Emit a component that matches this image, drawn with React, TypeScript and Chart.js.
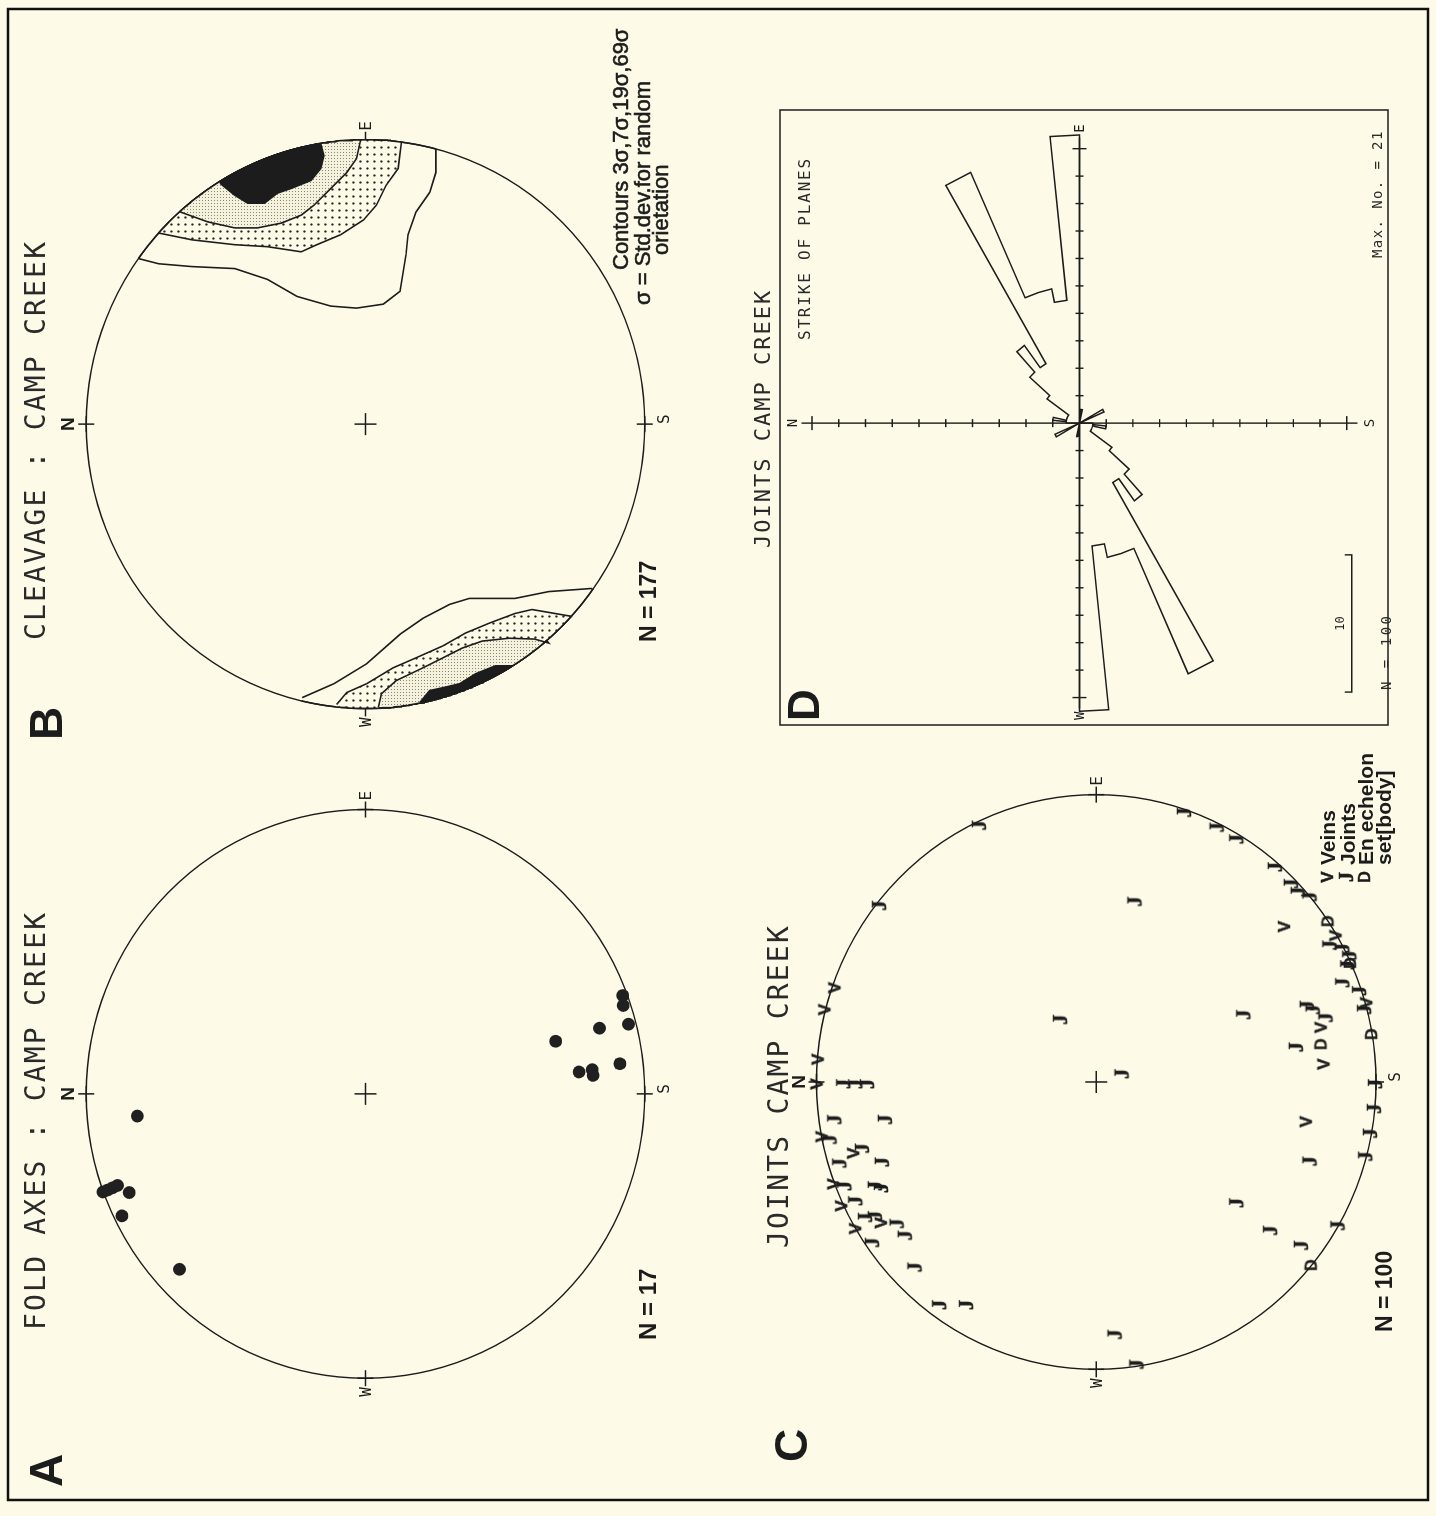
import React, { useEffect, useRef } from 'react';
import { Chart, registerables } from 'chart.js';

Chart.register(...registerables);

// ---------- page geometry (the figure is drawn landscape, then turned 90° CCW) ----------
const W = 1516;
const H = 1436;
const BG = '#fdfbe8';
const INK = '#1c1c1c';

// ---------- text ----------
const panelLetters = ['A', 'B', 'C', 'D'];
const titles = ['FOLD AXES : CAMP CREEK', 'CLEAVAGE : CAMP CREEK', 'JOINTS CAMP CREEK', 'JOINTS CAMP CREEK'];
const cardinal = ['N', 'E', 'S', 'W'];
const countLabels = ['N = 17', 'N = 177', 'N = 100'];
const contourLegend = ['Contours 3σ,7σ,19σ,69σ', 'σ = Std.dev.for random', 'orietation'];
const jointLegendSymbols = ['V', 'J', 'D', ''];
const jointLegendTexts = ['Veins', 'Joints', 'En echelon', 'set[body]'];
const roseTitle = 'STRIKE OF PLANES';
const roseMax = 'Max. No. = 21';
const roseN = 'N = 100';
const roseBarLabel = '10';
const roseBarValue = 10;

// ---------- A: fold axes, stereographic coords [East, North] on unit circle ----------
const foldAxes = [
  [-0.078, 0.817], [-0.345, 0.94], [-0.338, 0.923], [-0.33, 0.905], [-0.322, 0.888],
  [-0.347, 0.846], [-0.429, 0.872], [-0.617, 0.666],
  [0.346, -0.921], [0.311, -0.923], [0.245, -0.942], [0.231, -0.838], [0.185, -0.681],
  [0.106, -0.911], [0.077, -0.765], [0.085, -0.812], [0.065, -0.815],
];

// ---------- B: cleavage pole density contours [East, North] ----------
const cleavE3 = [[0.582, 0.812], [0.564, 0.741], [0.554, 0.621], [0.547, 0.468], [0.509, 0.351], [0.449, 0.245], [0.415, 0.124], [0.408, 0.032], [0.422, -0.064], [0.467, -0.124], [0.596, -0.145], [0.666, -0.152], [0.746, -0.181], [0.815, -0.23], [0.885, -0.252], [0.969, -0.252]];
const cleavE7 = [[0.672, 0.741], [0.648, 0.621], [0.631, 0.468], [0.624, 0.351], [0.606, 0.23], [0.631, 0.174], [0.666, 0.089], [0.718, 0.007], [0.77, -0.039], [0.84, -0.074], [0.899, -0.117], [0.986, -0.128]];
const cleavE19 = [[0.746, 0.663], [0.711, 0.564], [0.69, 0.468], [0.69, 0.387], [0.707, 0.301], [0.735, 0.23], [0.77, 0.184], [0.829, 0.124], [0.885, 0.067], [0.934, 0.032], [0.997, 0.018]];
const cleavE69 = [[0.847, 0.521], [0.805, 0.468], [0.777, 0.422], [0.777, 0.362], [0.812, 0.316], [0.829, 0.266], [0.857, 0.195], [0.899, 0.16], [0.944, 0.149], [0.986, 0.16]];
const cleavW3 = [[-0.962, 0.227], [-0.913, 0.113], [-0.843, -0.004], [-0.739, -0.124], [-0.683, -0.206], [-0.634, -0.301], [-0.613, -0.372], [-0.613, -0.535], [-0.589, -0.656], [-0.578, -0.809]];
const cleavW7 = [[-0.986, 0.103], [-0.944, 0.067], [-0.913, -0.004], [-0.857, -0.099], [-0.822, -0.181], [-0.78, -0.277], [-0.735, -0.358], [-0.7, -0.443], [-0.666, -0.535], [-0.652, -0.596], [-0.676, -0.738]];
const cleavW19 = [[-0.997, -0.046], [-0.948, -0.057], [-0.902, -0.11], [-0.857, -0.206], [-0.822, -0.277], [-0.787, -0.348], [-0.763, -0.418], [-0.753, -0.514], [-0.756, -0.606], [-0.77, -0.656]];
const cleavW69 = [[-0.979, -0.195], [-0.937, -0.23], [-0.927, -0.277], [-0.913, -0.337], [-0.878, -0.394], [-0.85, -0.465], [-0.85, -0.525]];

// ---------- C: joints / veins / en-echelon sets [East, North] ----------
const veins = [
  [-0.007, 1.0], [0.079, 0.996], [0.252, 0.972], [0.328, 0.936], [-0.19, 0.982], [-0.248, 0.869],
  [-0.355, 0.94], [-0.431, 0.912], [-0.51, 0.862], [-0.49, 0.77], [0.541, -0.671], [0.51, -0.855],
  [0.19, -0.802], [0.062, -0.812], [-0.138, -0.749], [0.276, -0.965],
];
const joints = [
  [-0.007, 0.901], [-0.007, 0.858], [-0.007, 0.816], [-0.131, 0.933], [-0.131, 0.752], [-0.2, 0.95],
  [-0.231, 0.834], [-0.283, 0.915], [-0.279, 0.763], [-0.362, 0.897], [-0.362, 0.788], [-0.369, 0.766],
  [-0.414, 0.858], [-0.472, 0.823], [-0.466, 0.788], [-0.493, 0.71], [-0.534, 0.681], [-0.559, 0.798],
  [-0.645, 0.646], [-0.776, 0.558], [-0.776, 0.462], [-0.879, -0.069], [-0.983, -0.147], [0.893, 0.416],
  [0.614, 0.773], [0.217, 0.126], [0.028, -0.094], [0.628, -0.14], [0.234, -0.529], [0.938, -0.317],
  [0.886, -0.434], [0.845, -0.504], [0.748, -0.642], [0.69, -0.699], [0.662, -0.724], [0.645, -0.766],
  [0.476, -0.837], [0.466, -0.883], [0.441, -0.908], [0.407, -0.901], [0.345, -0.883], [0.317, -0.943],
  [0.252, -0.961], [0.266, -0.756], [0.252, -0.777], [0.224, -0.823], [0.121, -0.717], [-0.007, -1.0],
  [-0.093, -0.996], [-0.179, -0.982], [-0.259, -0.965], [-0.276, -0.766], [-0.421, -0.504],
  [-0.517, -0.625], [-0.569, -0.735], [-0.5, -0.866],
];
const enEchelon = [[0.559, -0.83], [0.414, -0.91], [0.166, -0.986], [0.131, -0.805], [-0.638, -0.77]];

// ---------- D: rose diagram of strikes, 6° bins from 0° to 180° (mirrored) ----------
const roseBinDeg = 6;
const roseCounts = [1, 2, 1, 1, 1, 1, 3, 5, 7, 5, 20, 10, 10, 9, 21, 0, 1, 0, 0, 0, 0, 0, 0, 0, 0, 2, 0, 0, 0, 0];
const roseAxisMax = 20;
const roseTickStep = 2;

// ---------- layout of each panel in canvas pixels ----------
const GEO: any = {
  A: { cx: 419, cy: 362, rx: 287, ry: 282 },
  B: { cx: 1095, cy: 362, rx: 287, ry: 282 },
  C: { cx: 431, cy: 1100, rx: 290, ry: 282.5 },
  D: { cx: 1096, cy: 1083, rx: 13.85, ry: 13.5 },
};
const xr = (g: any) => ({ min: -g.cx / g.rx, max: (W - g.cx) / g.rx });
const yr = (g: any) => ({ min: -(H - g.cy) / g.ry, max: g.cy / g.ry });

const toPts = (arr: number[][]) => arr.map(([x, y]) => ({ x, y }));

function closeOnCircle(line: number[][]) {
  const pts = toPts(line);
  const last = line[line.length - 1];
  const a1 = Math.atan2(last[1], last[0]);
  const a0 = Math.atan2(line[0][1], line[0][0]);
  let d = a0 - a1;
  while (d > Math.PI) d -= 2 * Math.PI;
  while (d < -Math.PI) d += 2 * Math.PI;
  const steps = 48;
  for (let k = 0; k <= steps; k++) {
    const a = a1 + (d * k) / steps;
    pts.push({ x: Math.cos(a), y: Math.sin(a) });
  }
  return pts;
}

function rosePolygon(counts: number[], binDeg: number) {
  const pts: { x: number; y: number }[] = [];
  const n = Math.round(360 / binDeg);
  for (let i = 0; i < n; i++) {
    const r = counts[i % counts.length];
    for (const a of [i * binDeg, (i + 1) * binDeg]) {
      const rad = (a * Math.PI) / 180;
      pts.push({ x: r * Math.sin(rad), y: r * Math.cos(rad) });
    }
  }
  pts.push(pts[0]);
  return pts;
}

function makeGlyph(ch: string, font: string, stroke: number) {
  const c = document.createElement('canvas');
  c.width = 28;
  c.height = 28;
  const g = c.getContext('2d')!;
  g.fillStyle = INK;
  g.strokeStyle = INK;
  g.font = font;
  g.textAlign = 'center';
  g.textBaseline = 'middle';
  g.fillText(ch, 14, 15);
  if (stroke) {
    g.lineWidth = stroke;
    g.strokeText(ch, 14, 15);
  }
  return c;
}

function text(c: CanvasRenderingContext2D, s: string, x: number, y: number, font: string, o: any = {}) {
  c.save();
  c.font = font;
  c.fillStyle = o.color || INK;
  c.textAlign = o.align || 'left';
  c.textBaseline = o.baseline || 'alphabetic';
  if (o.ls != null) (c as any).letterSpacing = o.ls + 'px';
  c.fillText(s, x, y);
  if (o.stroke) {
    c.lineWidth = o.stroke;
    c.strokeStyle = o.color || INK;
    c.strokeText(s, x, y);
  }
  c.restore();
}

function cross(c: CanvasRenderingContext2D, x: number, y: number, s: number) {
  c.beginPath();
  c.moveTo(x - s, y);
  c.lineTo(x + s, y);
  c.moveTo(x, y - s);
  c.lineTo(x, y + s);
  c.stroke();
}

const PLOT = '"DejaVu Sans Mono", monospace';
const SANS = '"Liberation Sans", Arial, sans-serif';

function drawNet(chart: any, p: string) {
  const c = chart.ctx as CanvasRenderingContext2D;
  const sx = chart.scales['x' + p];
  const sy = chart.scales['y' + p];
  const cx = sx.getPixelForValue(0);
  const cy = sy.getPixelForValue(0);
  const rx = sx.getPixelForValue(1) - cx;
  const ry = cy - sy.getPixelForValue(1);
  c.save();
  c.strokeStyle = INK;
  c.lineWidth = 1.4;
  c.beginPath();
  c.ellipse(cx, cy, rx, ry, 0, 0, Math.PI * 2);
  c.stroke();
  c.lineWidth = 1.5;
  cross(c, cx, cy, 11);
  cross(c, cx, cy - ry, 8);
  cross(c, cx + rx, cy, 8);
  cross(c, cx, cy + ry, 8);
  cross(c, cx - rx, cy, 8);
  text(c, cardinal[0], cx, cy - ry - 12, 'bold 19px ' + SANS, { align: 'center' });
  text(c, cardinal[1], cx + rx + 9, cy + 6, '16px ' + PLOT, { align: 'left' });
  text(c, cardinal[2], cx + 5, cy + ry + 24, '16px ' + PLOT, { align: 'center' });
  text(c, cardinal[3], cx - rx - 9, cy + 6, '16px ' + PLOT, { align: 'right' });
  c.restore();
}

function drawRoseFrame(chart: any) {
  const c = chart.ctx as CanvasRenderingContext2D;
  const sx = chart.scales.xD;
  const sy = chart.scales.yD;
  const X = (v: number) => sx.getPixelForValue(v);
  const Y = (v: number) => sy.getPixelForValue(v);
  c.save();
  c.strokeStyle = INK;
  c.lineWidth = 1.5;
  c.strokeRect(791, 780, 615, 608);
  c.lineWidth = 1.4;
  const L = roseAxisMax + 0.8;
  c.beginPath();
  c.moveTo(X(-L), Y(0));
  c.lineTo(X(L), Y(0));
  c.moveTo(X(0), Y(-L));
  c.lineTo(X(0), Y(L));
  c.stroke();
  for (let k = roseTickStep; k <= roseAxisMax; k += roseTickStep) {
    const len = k === roseAxisMax ? 7 : 4;
    c.beginPath();
    for (const s of [-1, 1]) {
      c.moveTo(X(s * k), Y(0) - len);
      c.lineTo(X(s * k), Y(0) + len);
      c.moveTo(X(0) - len, Y(s * k));
      c.lineTo(X(0) + len, Y(s * k));
    }
    c.stroke();
  }
  const f = '14px ' + PLOT;
  text(c, cardinal[0], X(0), Y(L) - 4, f, { align: 'center' });
  text(c, cardinal[1], X(L) + 5, Y(0) + 5, f, { align: 'left' });
  text(c, cardinal[2], X(0), Y(-L) + 16, f, { align: 'center' });
  text(c, cardinal[3], X(-L) - 3, Y(0) + 5, f, { align: 'right' });
  // scale bar
  const by = Y(-20.37);
  const b0 = X(-19.6);
  const b1 = X(-19.6 + roseBarValue);
  c.beginPath();
  c.moveTo(b0, by - 7);
  c.lineTo(b0, by);
  c.lineTo(b1, by);
  c.lineTo(b1, by - 7);
  c.stroke();
  text(c, roseBarLabel, (b0 + b1) / 2, by - 8, '12px ' + PLOT, { align: 'center' });
  c.restore();
}

function drawTexts(chart: any, glyphs: any) {
  const c = chart.ctx as CanvasRenderingContext2D;
  const big = 'bold 46px ' + SANS;
  const tf = '28px ' + PLOT;
  const tc = '#2a2a2a';
  // panel letters
  text(c, panelLetters[0], 29, 62, big);
  text(c, panelLetters[1], 776, 62, big);
  text(c, panelLetters[2], 54, 807, big);
  text(c, panelLetters[3], 795, 819, 'bold 44px ' + SANS);
  // titles
  text(c, titles[0], 186, 45, tf, { ls: 2.2, color: tc });
  text(c, titles[1], 876, 45, tf, { ls: 2.2, color: tc });
  text(c, titles[2], 268, 788, tf, { ls: 2.2, color: tc });
  text(c, titles[3], 968, 770, '22px ' + PLOT, { ls: 2, color: tc });
  // counts
  text(c, countLabels[0], 176, 656, 'bold 24px ' + SANS);
  text(c, countLabels[1], 874, 656, 'bold 23px ' + SANS);
  text(c, countLabels[2], 184, 1392, 'bold 23px ' + SANS);
  // contour legend
  const lf = '22px ' + SANS;
  text(c, contourLegend[0], 1246, 628, lf, { stroke: 0.6 });
  text(c, contourLegend[1], 1211, 650, lf, { stroke: 0.6 });
  text(c, contourLegend[2], 1261, 668, lf, { stroke: 0.6 });
  // joint legend
  const rows = [1327, 1347, 1365, 1383];
  rows.forEach((y, i) => {
    const s = jointLegendSymbols[i];
    if (s) c.drawImage(glyphs[s], 639 - 14, y - 14);
    text(c, jointLegendTexts[i], 651, y + 8, 'bold 21px ' + SANS);
  });
  // rose texts
  text(c, roseTitle, 1176, 810, '16px ' + PLOT, { ls: 1.8, color: tc });
  text(c, roseMax, 1258, 1382, '14px ' + PLOT, { ls: 1.4, color: tc });
  text(c, roseN, 826, 1391, '14px ' + PLOT, { ls: 2.5, color: tc });
  // outer frame
  c.save();
  c.strokeStyle = '#111';
  c.lineWidth = 2.5;
  c.strokeRect(16, 8, 1491, 1420);
  c.restore();
}

export default function App() {
  const ref = useRef<HTMLCanvasElement>(null);

  useEffect(() => {
    const canvas = ref.current!;
    const ctx = canvas.getContext('2d')!;

    const pc = document.createElement('canvas');
    pc.width = 7;
    pc.height = 7;
    const pg = pc.getContext('2d')!;
    pg.fillStyle = BG;
    pg.fillRect(0, 0, 7, 7);
    pg.fillStyle = '#222';
    pg.beginPath();
    pg.arc(3.5, 3.5, 1.15, 0, Math.PI * 2);
    pg.fill();
    const coarse = ctx.createPattern(pc, 'repeat');

    const pf = document.createElement('canvas');
    pf.width = 3;
    pf.height = 3;
    const pfg = pf.getContext('2d')!;
    pfg.fillStyle = '#f4f1dc';
    pfg.fillRect(0, 0, 3, 3);
    pfg.fillStyle = '#8c8773';
    pfg.fillRect(1, 1, 1, 1);
    const fine = ctx.createPattern(pf, 'repeat');

    const glyphs: any = {
      V: makeGlyph('V', 'bold 17px ' + SANS, 0.5),
      J: makeGlyph('J', 'bold 20px "Liberation Serif", serif', 0.6),
      D: makeGlyph('D', 'bold 16px ' + SANS, 0.4),
    };

    const contour = (line: number[][], fillStyle: any, order: number) => ({
      data: closeOnCircle(line),
      xAxisID: 'xB',
      yAxisID: 'yB',
      showLine: true,
      pointRadius: 0,
      borderColor: INK,
      borderWidth: 1.6,
      backgroundColor: 'rgba(0,0,0,0)',
      fill: false,
      tension: 0,
      polyFill: fillStyle,
      order,
    });

    const glyphSet = (arr: number[][], g: any) => ({
      data: toPts(arr),
      xAxisID: 'xC',
      yAxisID: 'yC',
      pointStyle: g,
      pointRadius: 6,
      order: 0,
    });

    const lin = (axis: 'x' | 'y', r: any) => ({
      type: 'linear' as const,
      axis,
      position: axis === 'x' ? ('bottom' as const) : ('left' as const),
      display: false,
      ...r,
    });

    const chart = new Chart(canvas, {
      type: 'scatter',
      data: {
        datasets: [
          {
            data: toPts(foldAxes),
            xAxisID: 'xA',
            yAxisID: 'yA',
            pointRadius: 6.4,
            pointBackgroundColor: '#202020',
            pointBorderWidth: 0,
            order: 0,
          } as any,
          contour(cleavE3, null, 4),
          contour(cleavE7, coarse, 3),
          contour(cleavE19, fine, 2),
          contour(cleavE69, INK, 1),
          contour(cleavW3, null, 4),
          contour(cleavW7, coarse, 3),
          contour(cleavW19, fine, 2),
          contour(cleavW69, INK, 1),
          glyphSet(veins, glyphs.V),
          glyphSet(joints, glyphs.J),
          glyphSet(enEchelon, glyphs.D),
          {
            data: rosePolygon(roseCounts, roseBinDeg),
            xAxisID: 'xD',
            yAxisID: 'yD',
            showLine: true,
            pointRadius: 0,
            borderColor: INK,
            borderWidth: 1.5,
            fill: false,
            tension: 0,
            order: 0,
          } as any,
        ],
      },
      options: {
        responsive: false,
        animation: false,
        devicePixelRatio: 1,
        events: [],
        layout: { padding: 0 },
        plugins: { legend: { display: false }, tooltip: { enabled: false }, title: { display: false } },
        scales: {
          xA: lin('x', xr(GEO.A)),
          yA: lin('y', yr(GEO.A)),
          xB: lin('x', xr(GEO.B)),
          yB: lin('y', yr(GEO.B)),
          xC: lin('x', xr(GEO.C)),
          yC: lin('y', yr(GEO.C)),
          xD: lin('x', xr(GEO.D)),
          yD: lin('y', yr(GEO.D)),
        } as any,
      },
      plugins: [
        {
          id: 'figure',
          beforeDraw(ch: any) {
            const c = ch.ctx;
            c.save();
            c.fillStyle = BG;
            c.fillRect(0, 0, W, H);
            c.restore();
          },
          beforeDatasetsDraw(ch: any) {
            drawNet(ch, 'A');
            drawNet(ch, 'B');
            drawNet(ch, 'C');
            drawRoseFrame(ch);
          },
          beforeDatasetDraw(ch: any, args: any) {
            const ds = ch.data.datasets[args.index];
            if (!ds.polyFill) return;
            const els = args.meta.data;
            const c = ch.ctx;
            c.save();
            c.beginPath();
            els.forEach((el: any, i: number) => (i ? c.lineTo(el.x, el.y) : c.moveTo(el.x, el.y)));
            c.closePath();
            c.fillStyle = ds.polyFill;
            c.fill();
            c.restore();
          },
          afterDatasetsDraw(ch: any) {
            drawTexts(ch, glyphs);
          },
        },
      ],
    } as any);

    return () => chart.destroy();
  }, []);

  return (
    <div
      style={{
        position: 'absolute',
        left: 0,
        top: 0,
        width: 1436,
        height: 1516,
        overflow: 'hidden',
        background: BG,
      }}
    >
      <canvas
        ref={ref}
        width={W}
        height={H}
        style={{
          position: 'absolute',
          left: 0,
          top: 0,
          width: W,
          height: H,
          transformOrigin: '0 0',
          transform: `translate(0px, ${W}px) rotate(-90deg)`,
        }}
      />
    </div>
  );
}
